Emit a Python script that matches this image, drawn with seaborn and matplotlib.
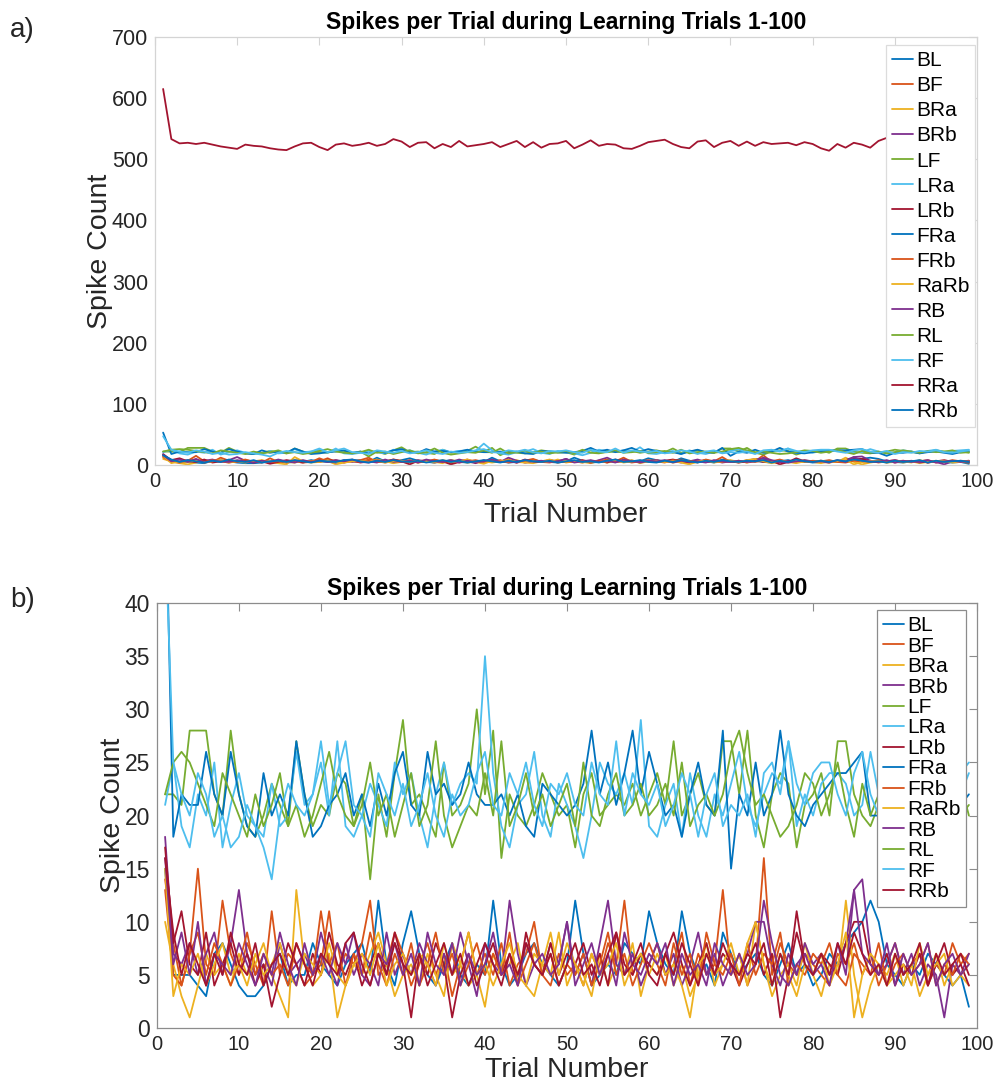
import numpy as np
import pandas as pd
import matplotlib
matplotlib.use("Agg")
import matplotlib.pyplot as plt
import seaborn as sns

# ---- spike counts per trial (trials 1-99) for each electrode pair ----
pairs = ["BL", "BF", "BRa", "BRb", "LF", "LRa", "LRb", "FRa",
         "FRb", "RaRb", "RB", "RL", "RF", "RRa", "RRb"]

BL = [15, 5, 5, 5, 4, 3, 7, 8, 6, 4,
      3, 3, 4, 6, 7, 4, 5, 5, 8, 6,
      5, 4, 6, 7, 8, 5, 12, 6, 4, 8,
      11, 7, 5, 4, 6, 8, 5, 4, 6, 5,
      12, 6, 4, 5, 7, 8, 6, 5, 4, 6,
      12, 7, 4, 5, 6, 5, 8, 7, 6, 11,
      8, 6, 5, 11, 7, 5, 6, 4, 9, 7,
      5, 6, 7, 5, 4, 6, 8, 5, 6, 4,
      5, 7, 6, 8, 9, 10, 12, 10, 6, 5,
      4, 6, 5, 7, 6, 5, 4, 5, 2]
BF = [14, 8, 4, 7, 15, 6, 5, 12, 7, 5,
      8, 6, 4, 11, 5, 7, 6, 4, 5, 6,
      11, 5, 7, 6, 8, 12, 5, 6, 9, 7,
      4, 6, 8, 5, 7, 3, 6, 9, 5, 7,
      5, 8, 4, 6, 7, 10, 5, 4, 7, 5,
      6, 4, 7, 5, 8, 6, 12, 5, 7, 6,
      8, 5, 6, 9, 4, 7, 5, 6, 13, 5,
      7, 4, 6, 16, 5, 8, 6, 5, 7, 6,
      5, 4, 7, 6, 8, 5, 7, 4, 6, 8,
      5, 6, 7, 4, 6, 5, 8, 6, 7]
BRa = [10, 6, 3, 1, 4, 7, 5, 6, 4, 7,
       5, 6, 8, 5, 3, 1, 13, 6, 4, 5,
       7, 1, 4, 6, 5, 7, 9, 6, 3, 5,
       6, 4, 7, 5, 3, 8, 6, 4, 5, 2,
       7, 5, 6, 8, 4, 3, 6, 5, 9, 4,
       6, 5, 3, 7, 4, 6, 5, 8, 3, 6,
       5, 7, 4, 6, 3, 5, 8, 4, 6, 5,
       7, 4, 10, 6, 3, 5, 6, 4, 8, 5,
       3, 6, 5, 12, 5, 1, 4, 6, 5, 7,
       4, 6, 3, 5, 7, 4, 6, 5, 4]
BRb = [18, 7, 6, 8, 5, 7, 9, 5, 8, 13,
       7, 5, 6, 4, 8, 5, 6, 7, 5, 9,
       6, 4, 8, 5, 7, 6, 4, 9, 5, 7,
       5, 8, 6, 4, 7, 5, 9, 6, 3, 8,
       6, 5, 12, 7, 4, 6, 5, 8, 6, 10,
       5, 7, 4, 8, 12, 6, 5, 7, 4, 6,
       8, 5, 7, 4, 6, 9, 5, 7, 4, 6,
       5, 7, 10, 10, 6, 4, 7, 5, 8, 6,
       7, 5, 6, 8, 13, 14, 7, 5, 6, 8,
       5, 7, 4, 6, 5, 1, 6, 5, 7]
LF = [22, 22, 21, 28, 28, 28, 22, 20, 28, 22,
      19, 18, 20, 23, 21, 19, 27, 22, 19, 21,
      20, 24, 23, 19, 22, 14, 22, 18, 24, 29,
      21, 22, 20, 18, 25, 20, 21, 23, 30, 22,
      28, 16, 22, 20, 19, 21, 24, 22, 20, 21,
      17, 22, 24, 20, 21, 22, 21, 23, 20, 22,
      24, 21, 27, 20, 22, 24, 21, 20, 27, 27,
      22, 28, 20, 17, 22, 24, 23, 17, 21, 22,
      24, 20, 27, 27, 22, 20, 19, 21, 22, 25,
      23, 21, 20, 22, 24, 22, 21, 23, 20]
LRa = [21, 25, 19, 17, 22, 20, 25, 17, 21, 24,
       20, 19, 18, 23, 19, 20, 26, 21, 22, 25,
       20, 27, 19, 18, 20, 23, 21, 19, 25, 22,
       24, 20, 17, 22, 25, 21, 23, 24, 23, 35,
       24, 19, 17, 21, 22, 26, 20, 18, 23, 21,
       19, 16, 20, 25, 23, 22, 24, 21, 29, 19,
       18, 21, 23, 18, 24, 20, 18, 22, 20, 23,
       26, 21, 19, 22, 24, 23, 27, 19, 22, 20,
       23, 24, 24, 23, 20, 21, 26, 22, 19, 21,
       24, 22, 19, 23, 25, 21, 23, 24, 25]
LRb = [17, 8, 11, 6, 5, 9, 4, 6, 8, 5,
       7, 4, 6, 2, 5, 8, 6, 4, 7, 5,
       9, 6, 5, 7, 4, 6, 8, 5, 9, 6,
       1, 7, 5, 8, 6, 1, 5, 7, 4, 6,
       8, 5, 7, 4, 9, 6, 5, 8, 5, 7,
       6, 8, 5, 7, 4, 9, 6, 5, 7, 6,
       5, 7, 9, 6, 4, 6, 8, 5, 7, 6,
       4, 6, 8, 5, 7, 1, 5, 11, 6, 5,
       7, 6, 5, 8, 10, 10, 6, 5, 7, 4,
       6, 5, 7, 4, 6, 8, 5, 6, 4]
FRa = [53, 18, 22, 21, 21, 26, 22, 20, 26, 22,
       19, 18, 24, 20, 22, 20, 27, 22, 18, 19,
       21, 22, 24, 20, 22, 19, 23, 20, 24, 26,
       21, 20, 26, 22, 23, 21, 22, 25, 22, 21,
       21, 22, 20, 22, 19, 18, 23, 22, 21, 20,
       21, 23, 28, 22, 25, 21, 24, 28, 22, 26,
       23, 20, 21, 18, 22, 25, 21, 20, 28, 15,
       22, 20, 25, 20, 22, 28, 22, 20, 19, 21,
       22, 23, 24, 24, 25, 26, 20, 20, 15, 20,
       20, 22, 19, 21, 22, 20, 18, 21, 22]
FRb = [13, 5, 4, 7, 9, 5, 8, 6, 4, 6,
       9, 5, 7, 5, 6, 4, 8, 6, 5, 11,
       6, 8, 4, 7, 5, 9, 6, 4, 7, 5,
       8, 4, 6, 9, 5, 7, 4, 6, 8, 5,
       7, 5, 9, 4, 6, 8, 5, 7, 4, 6,
       5, 7, 4, 6, 9, 5, 7, 4, 6, 8,
       6, 4, 8, 5, 7, 4, 9, 6, 5, 7,
       4, 8, 5, 7, 6, 9, 4, 6, 5, 7,
       6, 8, 5, 4, 7, 6, 5, 8, 4, 6,
       7, 5, 6, 8, 4, 6, 5, 7, 6]
RaRb = [15, 3, 6, 5, 7, 4, 6, 8, 5, 6,
        4, 7, 5, 6, 8, 5, 4, 7, 6, 5,
        8, 5, 4, 6, 7, 5, 8, 4, 6, 7,
        5, 7, 6, 4, 8, 5, 6, 9, 5, 6,
        4, 6, 8, 5, 4, 7, 6, 9, 5, 8,
        6, 4, 7, 5, 6, 8, 4, 6, 7, 5,
        7, 5, 6, 4, 1, 6, 7, 5, 6, 8,
        5, 8, 10, 6, 4, 7, 5, 3, 6, 5,
        7, 4, 6, 9, 1, 5, 7, 6, 4, 5,
        6, 4, 8, 5, 6, 7, 4, 5, 6]
RB = [16, 6, 9, 5, 10, 4, 7, 6, 5, 8,
      6, 4, 7, 5, 9, 6, 4, 8, 5, 7,
      5, 8, 6, 9, 5, 4, 7, 6, 8, 5,
      7, 4, 9, 6, 5, 8, 4, 7, 5, 6,
      9, 5, 6, 4, 8, 6, 7, 5, 6, 10,
      4, 6, 8, 5, 7, 4, 9, 6, 5, 7,
      6, 8, 4, 7, 5, 6, 4, 8, 6, 5,
      7, 5, 6, 12, 8, 5, 4, 6, 7, 5,
      6, 4, 8, 5, 13, 7, 6, 5, 8, 4,
      7, 5, 6, 8, 4, 6, 7, 5, 6]
RL = [22, 25, 26, 25, 23, 21, 19, 24, 22, 20,
      18, 22, 19, 21, 24, 19, 21, 18, 20, 23,
      26, 22, 20, 19, 21, 25, 20, 22, 18, 21,
      24, 19, 21, 27, 20, 17, 19, 21, 20, 24,
      20, 27, 19, 21, 24, 20, 22, 19, 21, 23,
      19, 25, 20, 19, 22, 24, 20, 21, 23, 20,
      21, 23, 20, 25, 19, 21, 22, 20, 22, 26,
      28, 24, 21, 22, 20, 18, 19, 21, 24, 23,
      20, 22, 25, 21, 18, 23, 20, 22, 19, 21,
      24, 22, 20, 23, 21, 22, 24, 20, 21]
RF = [47, 25, 22, 20, 24, 22, 18, 20, 17, 18,
      21, 19, 17, 14, 20, 23, 21, 20, 22, 27,
      21, 24, 27, 21, 20, 18, 24, 22, 20, 23,
      19, 21, 24, 20, 18, 22, 20, 21, 24, 26,
      21, 20, 24, 22, 25, 21, 19, 23, 22, 24,
      21, 20, 25, 22, 21, 27, 20, 24, 22, 21,
      23, 19, 21, 24, 22, 18, 22, 24, 19, 21,
      20, 22, 18, 24, 25, 22, 27, 23, 21, 24,
      25, 25, 22, 20, 24, 26, 22, 20, 23, 18,
      21, 20, 23, 22, 24, 21, 20, 22, 24]
RRa = [615, 533, 526, 527, 525, 527, 524, 521, 519, 517,
       524, 522, 521, 518, 516, 515, 521, 526, 527, 520,
       515, 524, 526, 522, 524, 527, 522, 525, 533, 529,
       520, 527, 528, 518, 525, 520, 530, 521, 523, 525,
       528, 520, 525, 530, 520, 528, 519, 525, 526, 530,
       518, 524, 531, 522, 525, 524, 518, 517, 522, 528,
       530, 532, 525, 520, 518, 529, 531, 520, 527, 530,
       522, 529, 522, 528, 525, 526, 527, 523, 528, 525,
       518, 514, 525, 519, 527, 524, 519, 530, 535, 522,
       528, 520, 524, 527, 520, 525, 522, 528, 527]
RRb = [16, 9, 5, 8, 6, 4, 7, 5, 9, 6,
       5, 8, 4, 6, 7, 5, 8, 6, 4, 7,
       6, 5, 8, 9, 6, 4, 7, 5, 8, 6,
       5, 7, 4, 6, 8, 5, 7, 4, 6, 8,
       6, 4, 7, 5, 8, 6, 5, 7, 4, 6,
       8, 5, 6, 4, 7, 9, 5, 6, 8, 5,
       4, 7, 5, 8, 6, 4, 7, 5, 8, 6,
       5, 7, 6, 8, 4, 7, 5, 9, 6, 5,
       7, 5, 8, 6, 9, 7, 5, 6, 4, 7,
       5, 6, 8, 4, 7, 5, 6, 7, 5]

series = {"BL": BL, "BF": BF, "BRa": BRa, "BRb": BRb, "LF": LF, "LRa": LRa,
          "LRb": LRb, "FRa": FRa, "FRb": FRb, "RaRb": RaRb, "RB": RB,
          "RL": RL, "RF": RF, "RRa": RRa, "RRb": RRb}

title_text = "Spikes per Trial during Learning Trials 1-100"
x_label = "Trial Number"
y_label = "Spike Count"

# default 7-colour line order used for successive series
line_order = ["#0072BD", "#D95319", "#EDB120", "#7E2F8E",
              "#77AC30", "#4DBEEE", "#A2142F"]


def long_frame(names):
    parts = []
    for n in names:
        vals = series[n]
        parts.append(pd.DataFrame({"Trial": np.arange(1, len(vals) + 1),
                                   "Spikes": vals, "Pair": n}))
    return pd.concat(parts, ignore_index=True)


sns.set_style("white")
plt.rcParams["font.family"] = ["Liberation Sans", "DejaVu Sans"]

fig = plt.figure(figsize=(9.93, 10.88), dpi=100)
ax_a = fig.add_axes([0.156, 0.5726, 0.828, 0.3934])
ax_b = fig.add_axes([0.158, 0.0551, 0.826, 0.3906])


def draw_panel(ax, names, ylim, yticks, spine_col, ytick_size, xlabel_pad,
               leg_anchor, leg_edge, leg_spacing):
    df = long_frame(names)
    pal = {n: line_order[i % 7] for i, n in enumerate(names)}
    sns.lineplot(data=df, x="Trial", y="Spikes", hue="Pair", hue_order=names,
                 palette=pal, linewidth=1.3, ax=ax, legend=True, sort=False)
    ax.set_xlim(0, 100)
    ax.set_ylim(*ylim)
    ax.set_xticks(np.arange(0, 101, 10))
    ax.set_yticks(yticks)
    ax.tick_params(direction="in", length=6, width=0.8, top=True, right=True,
                   colors=spine_col, labelcolor="#262626", pad=5)
    ax.tick_params(axis="x", labelsize=14.5)
    ax.tick_params(axis="y", labelsize=ytick_size)
    for s in ax.spines.values():
        s.set_visible(True)
        s.set_color(spine_col)
        s.set_linewidth(0.9)
    ax.set_title(title_text, fontsize=16.5, fontweight="bold", pad=6,
                 color="#000000")
    ax.set_xlabel(x_label, fontsize=20.5, color="#262626", labelpad=xlabel_pad)
    ax.set_ylabel(y_label, fontsize=20.5, color="#262626", labelpad=-1)
    handles, labels = ax.get_legend_handles_labels()
    leg = ax.legend(handles, labels, loc="upper right", bbox_to_anchor=leg_anchor,
                    borderaxespad=0, fontsize=15, handlelength=1.0,
                    handletextpad=0.15, labelspacing=leg_spacing, borderpad=0.3,
                    fancybox=False, framealpha=1, edgecolor=leg_edge)
    leg.get_frame().set_linewidth(0.9)
    for t in leg.get_texts():
        t.set_color("#000000")


draw_panel(ax_a, pairs, (0, 700), np.arange(0, 701, 100), "#d4d4d4", 15.5, 8,
           (0.998, 0.981), "#dcdcdc", 0.29)
panel_b_pairs = [p for p in pairs if p != "RRa"]
draw_panel(ax_b, panel_b_pairs, (0, 40), np.arange(0, 41, 5), "#8c8c8c", 16.5, 2,
           (0.987, 0.984), "#8c8c8c", 0.07)

fig.text(10 / 993, 1 - 30 / 1088, "a)", fontsize=20, va="center", ha="left")
fig.text(10 / 993, 1 - 600 / 1088, "b)", fontsize=20, va="center", ha="left")

fig.savefig("out.png", dpi=100, facecolor="white")
